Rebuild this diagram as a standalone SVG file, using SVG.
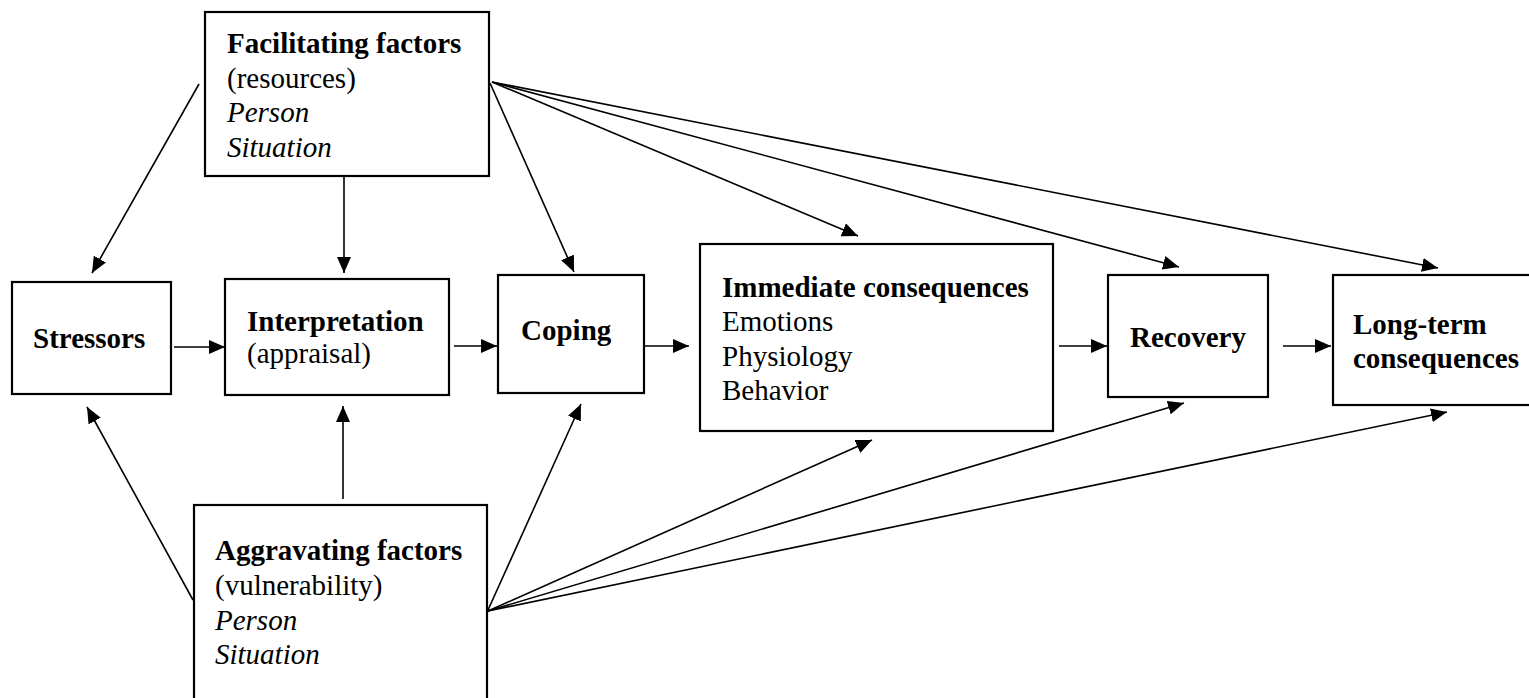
<svg xmlns="http://www.w3.org/2000/svg" width="1529" height="698" viewBox="0 0 1529 698">
<style>
.box{fill:#fff;stroke:#000;stroke-width:2.2}
.t{font-family:"Liberation Serif","Times New Roman",serif;font-size:29px;fill:#000}
.b{font-weight:bold}
.i{font-style:italic}
.c{stroke:#000;stroke-width:1.6;fill:none;marker-end:url(#ah)}
</style>
<defs>
<marker id="ah" markerUnits="userSpaceOnUse" markerWidth="16" markerHeight="14" refX="16" refY="7" orient="auto">
<path d="M0,0 L16,7 L0,14 z" fill="#000"/>
</marker>
</defs>
<rect width="1529" height="698" fill="#fff"/>
<g id="connectors">
<line class="c" x1="199" y1="84" x2="92" y2="273"/>
<line class="c" x1="344" y1="176" x2="344" y2="273"/>
<line class="c" x1="490" y1="83" x2="574" y2="272"/>
<line class="c" x1="492" y1="82" x2="858" y2="236"/>
<line class="c" x1="492" y1="82" x2="1179" y2="267"/>
<line class="c" x1="492" y1="82" x2="1438" y2="268"/>
<line class="c" x1="174" y1="347" x2="225" y2="347"/>
<line class="c" x1="454" y1="346" x2="497" y2="346"/>
<line class="c" x1="645" y1="346" x2="689" y2="346"/>
<line class="c" x1="1059" y1="346" x2="1107" y2="346"/>
<line class="c" x1="1283" y1="346" x2="1331" y2="346"/>
<line class="c" x1="193" y1="600" x2="87" y2="407"/>
<line class="c" x1="343" y1="499" x2="343" y2="406"/>
<line class="c" x1="488" y1="610" x2="581" y2="404"/>
<line class="c" x1="488" y1="611" x2="872" y2="440"/>
<line class="c" x1="488" y1="611" x2="1184" y2="403"/>
<line class="c" x1="488" y1="611" x2="1447" y2="412"/>
</g>
<g id="facilitating">
<rect class="box" x="205" y="12" width="284" height="164"/>
<text class="t b" x="227" y="53">Facilitating factors</text>
<text class="t" x="227" y="88">(resources)</text>
<text class="t i" x="227" y="122">Person</text>
<text class="t i" x="227" y="157">Situation</text>
</g>
<g id="stressors">
<rect class="box" x="12" y="282" width="159" height="112"/>
<text class="t b" x="33" y="348">Stressors</text>
</g>
<g id="interpretation">
<rect class="box" x="225" y="279" width="224" height="116"/>
<text class="t b" x="247" y="331">Interpretation</text>
<text class="t" x="247" y="363">(appraisal)</text>
</g>
<g id="coping">
<rect class="box" x="498" y="275" width="146" height="118"/>
<text class="t b" x="521" y="340">Coping</text>
</g>
<g id="immediate">
<rect class="box" x="700" y="244" width="353" height="187"/>
<text class="t b" x="722" y="297">Immediate consequences</text>
<text class="t" x="722" y="331">Emotions</text>
<text class="t" x="722" y="366">Physiology</text>
<text class="t" x="722" y="400">Behavior</text>
</g>
<g id="recovery">
<rect class="box" x="1108" y="275" width="160" height="122"/>
<text class="t b" x="1130" y="347">Recovery</text>
</g>
<g id="longterm">
<rect class="box" x="1333" y="275" width="210" height="130"/>
<text class="t b" x="1353" y="334">Long-term</text>
<text class="t b" x="1353" y="368">consequences</text>
</g>
<g id="aggravating">
<rect class="box" x="194" y="505" width="293" height="210"/>
<text class="t b" x="215" y="560">Aggravating factors</text>
<text class="t" x="215" y="595">(vulnerability)</text>
<text class="t i" x="215" y="630">Person</text>
<text class="t i" x="215" y="664">Situation</text>
</g>
</svg>
